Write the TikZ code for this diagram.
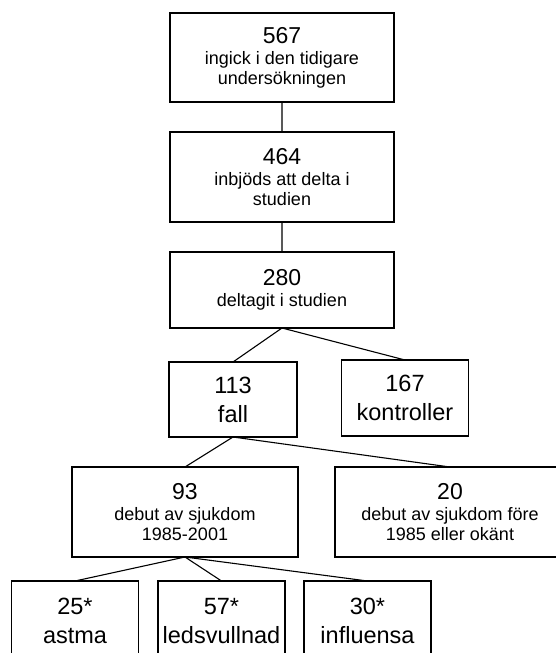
\documentclass[tikz,border=0pt]{standalone}
\usepackage{fontspec}
\setmainfont{Liberation Sans}
\usetikzlibrary{positioning}
\tikzset{
x=1pt, y=-1pt, % one unit is one pixel of the scan, y runs downwards
node distance=30pt, % gap between the stacked boxes
every path/.style={line width=1.1pt}, % lines as thick as in the scan
box/.style={draw, align=center, inner sep=0pt, outer sep=0pt,
  font=\fontsize{18}{19.5}\selectfont}, % box with number and small text
wide/.style={box, minimum width=224pt}, % the three boxes on top
small/.style={box, minimum width=127pt, minimum height=76pt,
  font=\fontsize{23.5}{29}\selectfont}, % box with only big text
}
\newcommand{\bignr}[1]{{\fontsize{23}{23}\selectfont #1}\\[2pt]}

\begin{document}
\begin{tikzpicture}
      \useasboundingbox (0,0) rectangle (555,653);
      \node[wide, minimum height=89pt] (n567) at (282,57.5)
        {\bignr{567}ingick i den tidigare\\undersökningen};
      \node[wide, minimum height=90pt, below=of n567] (n464)
        {\bignr{464}inbjöds att delta i\\studien};
      \node[wide, minimum height=76pt, below=of n464] (n280)
        {\bignr{280}deltagit i studien};
      \node[small, minimum width=128pt, minimum height=75pt] (n113) at (233,399.5) {113\\fall};
      \node[small] (n167) at (405,398) {167\\kontroller};
      \node[box, minimum width=226pt, minimum height=90pt] (n93) at (185,512)
        {\bignr{93}debut av sjukdom\\1985-2001};
      \node[box, minimum width=230pt, minimum height=90pt] (n20) at (450,512)
        {\bignr{20}debut av sjukdom före\\1985 eller okänt};
      \node[small, minimum height=80pt] (n25) at (75,621) {25*\\astma};
      \node[small, minimum height=80pt] (n57) at (221.5,621) {57*\\ledsvullnad};
      \node[small, minimum height=80pt] (n30) at (367.5,621) {30*\\influensa};
      \draw (n567) -- (n464)
      (n464) -- (n280)
      (n280.south) -- (n113.north)
      (n280.south) -- (n167.north)
      (n113.south) -- (n93.north)
      (n113.south) -- (n20.north)
      (n93.south) -- (n25.north)
      (n93.south) -- (n57.north)
      (n93.south) -- (n30.north);
    \end{tikzpicture}
\end{document}
